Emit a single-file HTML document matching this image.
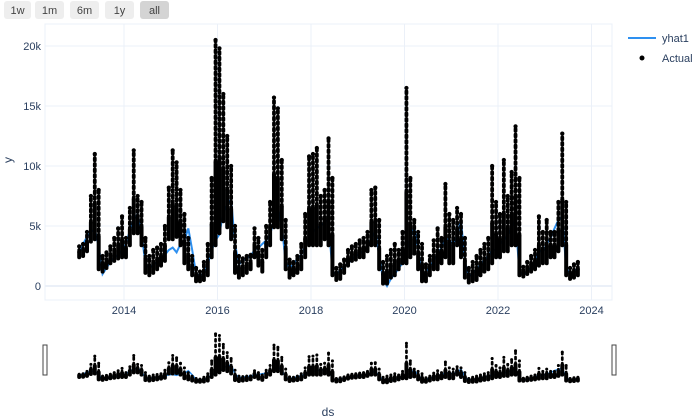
<!DOCTYPE html>
<html><head><meta charset="utf-8"><style>
body{margin:0;background:#fff;}
svg{display:block;font-family:"Liberation Sans",sans-serif;}
</style></head><body>
<svg id="c" width="700" height="420" xmlns="http://www.w3.org/2000/svg">
<g>
<g><rect x="4" y="1" width="27" height="18" rx="3" fill="#eeeeee"/><text x="17.5" y="14" font-size="11" text-anchor="middle" fill="#444">1w</text></g>
<g><rect x="35" y="1" width="29" height="18" rx="3" fill="#eeeeee"/><text x="49.5" y="14" font-size="11" text-anchor="middle" fill="#444">1m</text></g>
<g><rect x="70" y="1" width="29" height="18" rx="3" fill="#eeeeee"/><text x="84.5" y="14" font-size="11" text-anchor="middle" fill="#444">6m</text></g>
<g><rect x="105" y="1" width="29" height="18" rx="3" fill="#eeeeee"/><text x="119.5" y="14" font-size="11" text-anchor="middle" fill="#444">1y</text></g>
<g><rect x="140" y="1" width="29" height="18" rx="3" fill="#d4d4d4"/><text x="154.5" y="14" font-size="11" text-anchor="middle" fill="#444">all</text></g>
</g>
<g id="grid"></g>
<g id="main"></g>
<g id="slider"></g>
<text x="12" y="160" font-size="12" fill="#2a3f5f" text-anchor="middle" transform="rotate(-90 12 160)">y</text>
<text x="328" y="416" font-size="12" fill="#2a3f5f" text-anchor="middle">ds</text>
<g>
<g><line x1="628" y1="38" x2="656" y2="38" stroke="#2e90f0" stroke-width="2"/><text x="662" y="42" font-size="11" fill="#2a3f5f">yhat1</text></g>
<g><circle cx="642" cy="58" r="2.5" fill="#000"/><text x="662" y="62" font-size="11" fill="#2a3f5f">Actual</text></g>
</g>
</svg>
<script>
const years=[2013,2014,2015,2016,2017,2018,2019,2020,2021,2022,2023];
const actualLow=[
2.5,2.6,3.0,3.8,4.0,1.5,1.3,1.6,2.0,2.2,2.4,2.5,
2.5,3.5,4.5,4.5,3.5,1.2,1.0,1.2,1.5,1.8,2.2,4.0,
4.0,4.2,3.5,2.0,1.5,1.0,0.5,0.5,0.6,1.0,2.5,3.5,
4.5,5.5,5.0,4.0,1.2,0.8,1.0,1.2,1.5,2.5,1.8,1.3,
2.5,3.5,5.0,5.0,4.0,1.5,0.8,1.0,1.2,1.5,2.5,3.5,
3.5,3.5,3.5,4.0,3.5,1.0,0.6,0.7,1.2,1.8,2.2,2.3,
2.5,2.5,3.0,3.5,3.5,1.5,0.3,0.3,0.8,1.0,1.5,2.0,
2.0,2.5,2.8,1.5,0.5,0.5,1.0,1.5,1.5,2.0,2.5,2.0,
2.0,3.5,2.5,0.8,0.4,0.5,0.6,1.0,1.3,1.5,2.0,2.5,
2.5,3.0,3.0,3.5,3.5,1.0,0.9,1.1,1.3,1.5,1.8,2.0,
2.0,2.5,2.5,3.0,3.5,1.0,0.7,0.8,1.0];
const actualHigh=[
3.3,3.5,4.5,7.5,11.0,8.0,2.5,2.8,3.3,4.0,4.8,5.8,
4.0,6.5,11.3,7.5,7.0,4.0,2.5,3.0,3.2,3.5,5.0,8.2,
11.3,10.3,8.0,6.0,4.0,2.5,1.5,1.2,2.0,3.5,9.0,20.5,
19.8,16.0,12.5,10.0,5.0,2.5,2.3,2.5,2.6,4.8,4.0,3.0,
5.0,7.0,15.7,14.8,10.5,5.5,2.2,2.0,2.5,3.5,6.0,10.8,
11.0,11.5,7.5,8.0,12.3,9.0,1.5,1.8,2.2,3.0,3.3,3.5,
3.8,4.0,4.5,8.0,8.2,5.5,2.0,2.5,3.0,3.5,3.0,4.5,
16.5,9.0,5.5,4.5,3.5,1.8,2.5,3.8,4.8,4.0,8.5,6.0,
5.5,6.5,6.0,4.0,1.5,2.0,2.5,3.0,3.5,4.0,10.0,7.0,
6.0,10.5,7.5,9.5,13.3,9.0,1.6,2.0,2.5,3.0,5.8,4.5,
5.5,4.5,4.5,7.0,12.7,7.0,1.5,1.8,2.0];
const yhat=[
2.8,3.5,4.1,4.5,4.7,3.3,1.0,1.5,2.0,2.4,2.6,3.0,
3.5,4.6,5.5,6.0,4.5,1.8,1.5,1.8,2.0,2.3,2.6,3.0,
3.2,2.8,3.5,3.8,4.8,3.0,1.0,0.9,1.0,1.8,3.0,3.8,
4.3,6.2,6.8,7.2,3.5,1.8,2.1,2.3,2.5,3.0,3.2,3.5,
3.8,4.3,5.5,6.5,5.0,2.0,1.5,1.8,2.3,2.6,3.3,4.0,
4.5,4.8,5.0,5.3,5.5,1.2,1.0,1.3,1.6,1.9,2.2,2.5,
2.7,2.9,3.3,4.0,4.6,2.5,0.5,0.0,0.6,1.0,1.5,1.9,
3.0,4.0,5.0,3.0,0.8,1.2,1.6,2.1,2.6,3.2,4.0,3.8,
3.5,4.2,5.5,2.0,0.8,1.0,1.4,1.8,2.2,2.5,3.0,3.0,
3.5,3.8,4.2,4.8,5.5,1.2,0.9,1.2,1.6,2.0,3.0,2.8,
3.5,4.0,4.8,5.5,5.8,1.5,1.0,1.2,1.5];
const yTicks=[0,5,10,15,20];
const yTickLabels=["0","5k","10k","15k","20k"];
const xTicks=[2014,2016,2018,2020,2022,2024];

const NS="http://www.w3.org/2000/svg";
function mk(tag,attrs,parent){const e=document.createElementNS(NS,tag);for(const k in attrs)e.setAttribute(k,attrs[k]);parent.appendChild(e);return e;}
const X=t=>124+(t-2014)*46.75;
const Y=v=>286-12*v;
const SY=v=>382-2.35*v;
const T=i=>years[0]+(i+0.5)/12;

const grid=document.getElementById('grid');
mk('rect',{x:45,y:24,width:567,height:276,fill:'none',stroke:'#ebf0f8','stroke-width':1},grid);
yTicks.forEach((v,i)=>{
  const l=mk('line',{x1:45,x2:612,y1:Y(v),y2:Y(v),stroke:'#ebf0f8','stroke-width':v===0?2:1},grid);
  
  
  const t=mk('text',{x:41,y:Y(v)+4,'font-size':11,fill:'#2a3f5f','text-anchor':'end'},grid);
  t.textContent=yTickLabels[i];
  
  
});
xTicks.forEach(v=>{
  const l=mk('line',{x1:X(v),x2:X(v),y1:24,y2:300,stroke:'#ebf0f8','stroke-width':1},grid);
  
  
  const t=mk('text',{x:X(v),y:314,'font-size':11,fill:'#2a3f5f','text-anchor':'middle'},grid);
  t.textContent=String(v);
  
  
});

function draw(parent,yf,r,w,bw){
  const pts=yhat.map((v,i)=>X(T(i)).toFixed(1)+','+yf(v).toFixed(1)).join(' ');
  const line=mk('polyline',{points:pts,fill:'none',stroke:'#2e90f0','stroke-width':w},parent);
  
  
  const g=mk('g',{fill:'#000'},parent);
  
  
  actualHigh.forEach((v,i)=>{
    const x=X(T(i)), lo=actualLow[i], mid=lo+0.4*(v-lo);
    const band=mk('line',{x1:x,x2:x,y1:yf(lo)+r*0.6,y2:yf(mid),stroke:'#000','stroke-width':bw,'stroke-linecap':'round'},g);
    
    
    const seg=mk('line',{x1:x,x2:x,y1:yf(mid),y2:yf(v),stroke:'#000','stroke-width':r*1.8,'stroke-dasharray':'2 3.5','stroke-linecap':'round'},g);
    
    
    const c=mk('circle',{cx:x,cy:yf(v),r:r},g);
    
    
  });
}
draw(document.getElementById('main'),Y,2.1,2,4);
const sl=document.getElementById('slider');
draw(sl,SY,1.5,1.5,4);
const h1=mk('rect',{x:43,y:345,width:4,height:30,fill:'#fff',stroke:'#444','stroke-width':1},sl);


const h2=mk('rect',{x:612,y:345,width:4,height:30,fill:'#fff',stroke:'#444','stroke-width':1},sl);


</script>
</body></html>
